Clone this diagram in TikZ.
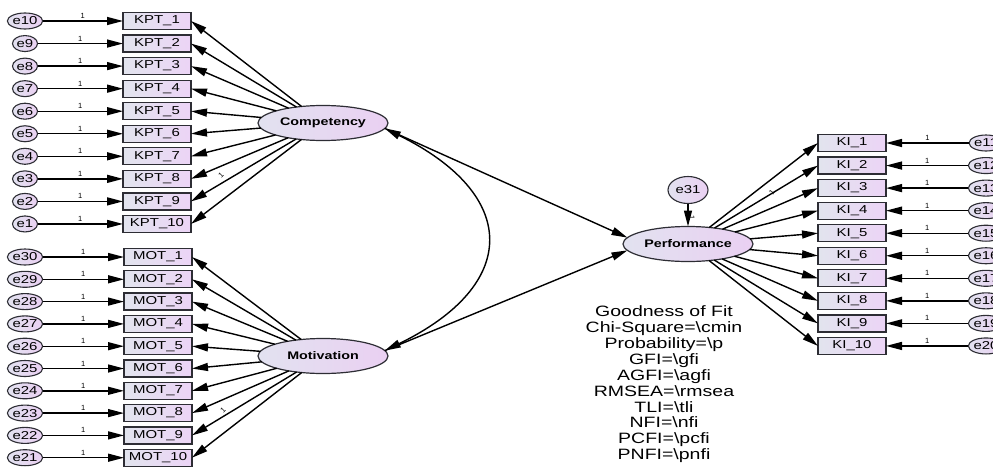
\documentclass[tikz,border=0pt]{standalone}
\usepackage{graphicx}
\usepackage{fontspec}
\setmainfont{Liberation Sans}
\usetikzlibrary{arrows.meta,shapes.geometric}

\definecolor{boxL}{RGB}{226,228,238}
\definecolor{boxR}{RGB}{236,212,246}
\definecolor{ellL}{RGB}{226,226,240}
\definecolor{ellR}{RGB}{234,208,242}
\definecolor{edge}{RGB}{45,45,52}

% text in this model is set slightly wide
\newcommand{\wide}[1]{\scalebox{1.3}[1]{#1}}

\begin{document}
\begin{tikzpicture}[x=1pt,y=-1pt,
  every node/.style={inner sep=0pt,outer sep=0pt},
  obs/.style={draw=edge,line width=1.3pt,minimum width=68pt,minimum height=17pt,
    left color=boxL,right color=boxR,font=\fontsize{11.5}{11.5}\selectfont},
  err/.style={ellipse,draw=edge,line width=1.1pt,minimum width=25pt,minimum height=16pt,
    left color=ellL,right color=ellR,font=\fontsize{11.5}{11.5}\selectfont},
  lat/.style={ellipse,draw=edge,line width=1.2pt,minimum width=130pt,minimum height=35pt,
    left color=ellL,right color=ellR,font=\bfseries\fontsize{11}{11}\selectfont},
  tip/.tip={Triangle[length=16pt,width=8pt]},
  link/.style={draw=black,line width=1.4pt,-tip},
  cov/.style={draw=black,line width=1.4pt,tip-tip},
  one/.style={font=\fontsize{7.5}{7.5}\selectfont},
]
\useasboundingbox (0,0) rectangle (993,469);
\clip (0,0) rectangle (993,469);

% latent variables
\node[lat] (comp) at (323,123) {\wide{Competency}};
\node[lat] (mot)  at (323,356) {\wide{Motivation}};
\node[lat] (perf) at (688,244) {\wide{Performance}};
\node[err,minimum width=40pt,minimum height=27pt,font=\fontsize{11.5}{11.5}\selectfont] (e31) at (688,190) {\wide{e31}};

% competency indicators
\foreach \i [evaluate=\i as \yy using 21+22.55*(\i-1),
             evaluate=\i as \e using int(11-\i)] in {1,...,10}{
  \node[obs] (kpt\i) at (157,\yy) {\wide{KPT\_\i}};
  \node[err] (ek\i) at (25,\yy) {\wide{e\e}};
  \draw[link] (ek\i) -- node[one,above=2.5pt]{1} (kpt\i);
  \draw[link] (comp) -- (kpt\i.east);
}

% motivation indicators
\foreach \i [evaluate=\i as \yy using 257+22.3*(\i-1),
             evaluate=\i as \e using int(31-\i)] in {1,...,10}{
  \node[obs] (mot\i) at (158,\yy) {\wide{MOT\_\i}};
  \node[err] (em\i) at (25,\yy) {\wide{e\e}};
  \draw[link] (em\i) -- node[one,above=2.5pt]{1} (mot\i);
  \draw[link] (mot) -- (mot\i.east);
}

% performance indicators
\foreach \i [evaluate=\i as \yy using 143+22.55*(\i-1),
             evaluate=\i as \e using int(10+\i)] in {1,...,10}{
  \node[obs] (ki\i) at (852,\yy) {\wide{KI\_\i}};
  \node[err] (ei\i) at (986,\yy) {\wide{e\e}};
  \draw[link] (ei\i) -- node[one,above=2.5pt]{1} (ki\i);
  \draw[link] (perf) -- (ki\i.west);
}

% fixed loadings
\node[one,rotate=45] (fk) at (221,175) {1};
\node[one,rotate=45] (fm) at (223,410) {1};
\node[one,rotate=55] (fi) at (772,192) {1};

% structural paths
\draw[link] (e31) -- node[one,right=4pt,rotate=-90]{1} (perf);
\draw[link] (comp.-5) -- (perf.174);
\draw[link] (mot.5) -- (perf.186);
\draw[cov] (comp.-5) .. controls (520,195) and (520,285) .. (mot.5);

% fit summary
\node (fit) at (664,385) {\scalebox{1.3}[1]{\fontsize{15}{15.9}\selectfont
  \begin{tabular}{@{}c@{}}
  Goodness of Fit\\
  Chi-Square=\textbackslash cmin\\
  Probability=\textbackslash p\\
  GFI=\textbackslash gfi\\
  AGFI=\textbackslash agfi\\
  RMSEA=\textbackslash rmsea\\
  TLI=\textbackslash tli\\
  NFI=\textbackslash nfi\\
  PCFI=\textbackslash pcfi\\
  PNFI=\textbackslash pnfi
  \end{tabular}}};
\end{tikzpicture}
\end{document}
